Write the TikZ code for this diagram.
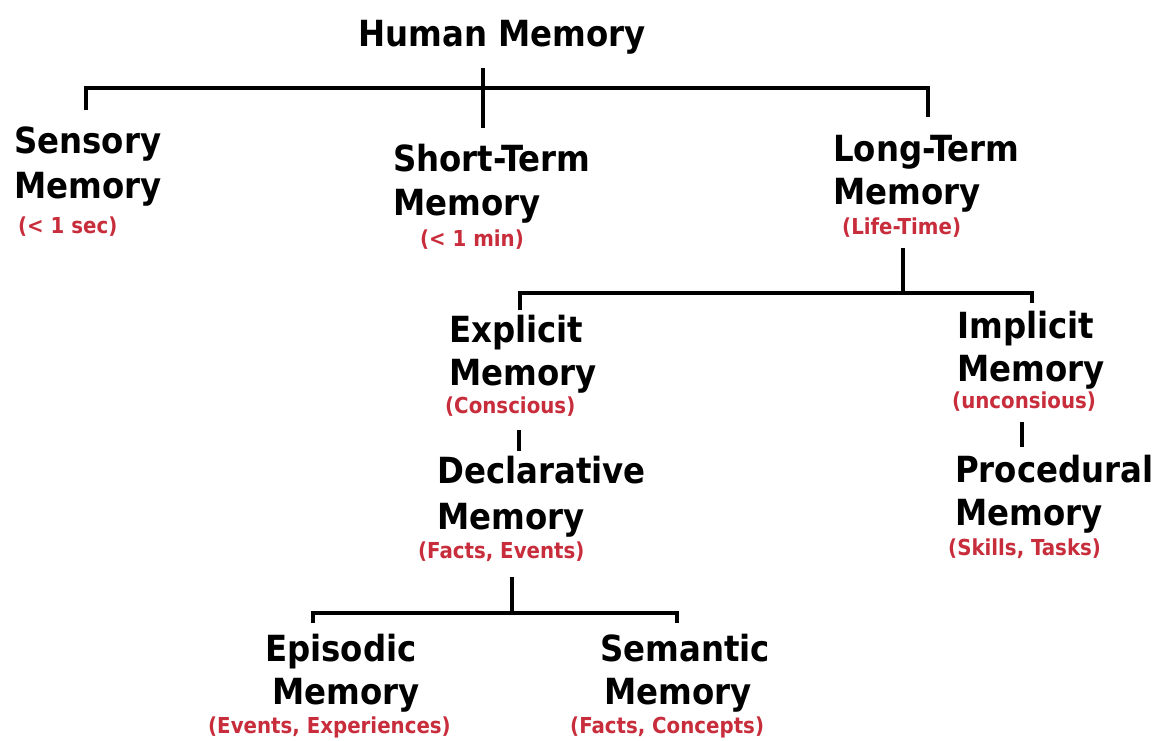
\documentclass[tikz,border=0pt]{standalone}
\usepackage{fontspec}
\setmainfont{DejaVu Sans Condensed}
\definecolor{notered}{RGB}{200,45,60}
\begin{document}
\begin{tikzpicture}[x=1pt,y=-1pt,
  ttl/.style={font=\fontsize{36}{42}\selectfont\bfseries, inner sep=0, anchor=base west},
  sub/.style={font=\fontsize{22}{26}\selectfont\bfseries, text=notered, inner sep=0, anchor=base west},
  bar/.style={line width=4.5pt, line join=miter}]
\useasboundingbox (0,0) rectangle (1158,740);

% root
\node[ttl, anchor=base] (root) at (502,46) {Human Memory};

% first level
\node[ttl] (sens1) at (14,153) {Sensory};
\node[ttl] (sens2) at (14,198) {Memory};
\node[sub] (sens3) at (18,233) {(< 1 sec)};

\node[ttl] (stm1) at (393,171) {Short-Term};
\node[ttl] (stm2) at (393,215) {Memory};
\node[sub, anchor=base] (stm3) at (472,246) {(< 1 min)};

\node[ttl] (ltm1) at (833,161) {Long-Term};
\node[ttl] (ltm2) at (833,204) {Memory};
\node[sub] (ltm3) at (842,234) {(Life-Time)};

% second level
\node[ttl] (exp1) at (449,342) {Explicit};
\node[ttl] (exp2) at (449,385) {Memory};
\node[sub] (exp3) at (445,413) {(Conscious)};

\node[ttl] (imp1) at (957,338) {Implicit};
\node[ttl] (imp2) at (957,381) {Memory};
\node[sub] (imp3) at (952,408) {(unconsious)};

% third level
\node[ttl] (dec1) at (437,483) {Declarative};
\node[ttl] (dec2) at (437,529) {Memory};
\node[sub] (dec3) at (418,558) {(Facts, Events)};

\node[ttl] (pro1) at (955,482) {Procedural};
\node[ttl] (pro2) at (955,525) {Memory};
\node[sub] (pro3) at (948,555) {(Skills, Tasks)};

% fourth level
\node[ttl] (epi1) at (265,661) {Episodic};
\node[ttl] (epi2) at (272,704) {Memory};
\node[sub] (epi3) at (208,733) {(Events, Experiences)};

\node[ttl] (sem1) at (600,661) {Semantic};
\node[ttl] (sem2) at (604,704) {Memory};
\node[sub] (sem3) at (570,733) {(Facts, Concepts)};

% junction points of the tree
\coordinate (rootD) at (483,68);
\coordinate (rootE) at (483,128);
\coordinate (sensT) at (86,110);
\coordinate (sensC) at (86,88);
\coordinate (ltmC)  at (928,88);
\coordinate (ltmT)  at (928,117);

\coordinate (ltmD)  at (903,248);
\coordinate (ltmJ)  at (903,293);
\coordinate (expT)  at (520,310);
\coordinate (expC)  at (520,293);
\coordinate (impC)  at (1032,293);
\coordinate (impT)  at (1032,303);

\coordinate (expD)  at (519,430);
\coordinate (decT)  at (519,451);

\coordinate (impD)  at (1022,422);
\coordinate (proT)  at (1022,447);

\coordinate (decD)  at (512,577);
\coordinate (decJ)  at (512,613);
\coordinate (epiT)  at (313,623);
\coordinate (epiC)  at (313,613);
\coordinate (semC)  at (677,613);
\coordinate (semT)  at (677,623);

% connectors
\draw[bar] (rootD) -- (rootE);
\draw[bar] (sensT) -- (sensC) -- (ltmC) -- (ltmT);

\draw[bar] (ltmD) -- (ltmJ);
\draw[bar] (expT) -- (expC) -- (impC) -- (impT);

\draw[bar] (expD) -- (decT);
\draw[bar] (impD) -- (proT);

\draw[bar] (decD) -- (decJ);
\draw[bar] (epiT) -- (epiC) -- (semC) -- (semT);
\end{tikzpicture}
\end{document}
